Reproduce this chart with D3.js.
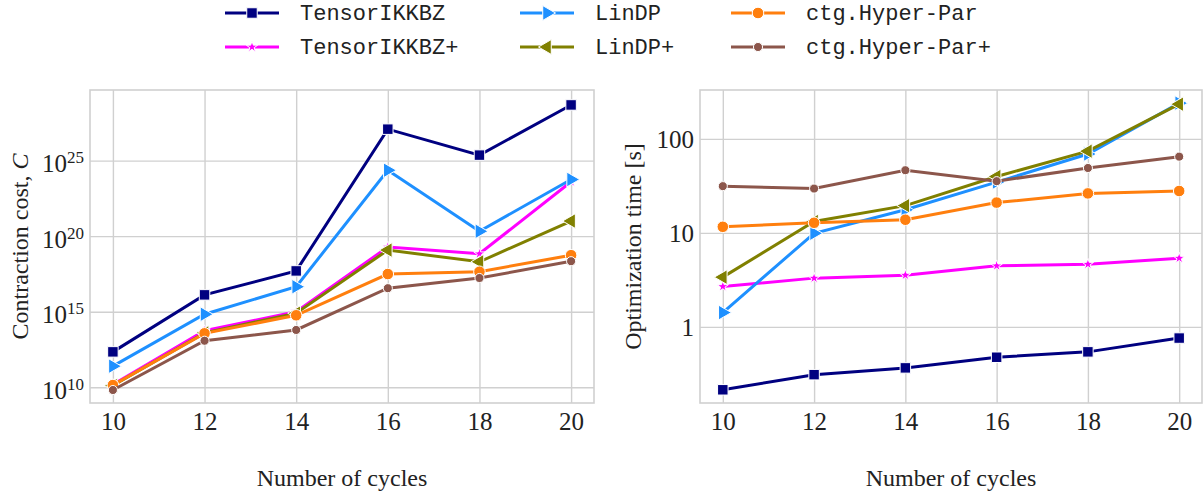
<!DOCTYPE html>
<html>
<head>
<meta charset="utf-8">
<script src="https://cdn.jsdelivr.net/npm/d3@7"></script>
<style>
  body { margin: 0; background: #fff; }
  svg text { fill: #222; }
  .lab { font-family: "Liberation Serif", "DejaVu Serif", serif; font-size: 24px; }
  .leg { font-family: "Liberation Mono", "DejaVu Sans Mono", monospace; font-size: 22px; }
</style>
</head>
<body>
<svg id="chart" width="1204" height="496"></svg>
<script>
  // number of cycles
  var cycles = [10, 12, 14, 16, 18, 20];
  var seriesNames = ['TensorIKKBZ', 'TensorIKKBZ+', 'LinDP', 'LinDP+', 'ctg.Hyper-Par', 'ctg.Hyper-Par+'];

  // contraction cost
  var costTensorIKKBZ = [2.2e12, 1.3e16, 5e17, 1.2e27, 2.3e25, 4.8e28];
  var costTensorIKKBZPlus = [1.5e10, 5.5e13, 1e15, 1.9e19, 6.8e18, 4e23];
  var costLinDP = [2.5e11, 6.8e14, 4.5e16, 2.3e24, 2.1e20, 5.6e23];
  var costLinDPPlus = [1.3e10, 4e13, 8e14, 1.2e19, 2e18, 1e21];
  var costHyperPar = [1.4e10, 3.7e13, 5.8e14, 3.1e17, 4.4e17, 5.5e18];
  var costHyperParPlus = [6.6e9, 1.2e13, 6.2e13, 3.6e16, 1.7e17, 2.2e18];

  // optimization time [s]
  var timeTensorIKKBZ = [0.214, 0.31, 0.366, 0.475, 0.542, 0.76];
  var timeTensorIKKBZPlus = [2.69, 3.3, 3.55, 4.46, 4.64, 5.38];
  var timeLinDP = [1.42, 9.9, 17.6, 34.7, 69, 240];
  var timeLinDPPlus = [3.38, 13.2, 19.5, 39.8, 74, 234];
  var timeHyperPar = [11.6, 12.8, 13.8, 21, 26.3, 27.9];
  var timeHyperParPlus = [31.4, 29.6, 46.4, 35.5, 49, 64.7];

  var costTicks = [1e10, 1e15, 1e20, 1e25];
  var timeTicks = [1, 10, 100];
  var timeTickLabels = ['1', '10', '100'];

  var costData = [costTensorIKKBZ, costTensorIKKBZPlus, costLinDP, costLinDPPlus, costHyperPar, costHyperParPlus];
  var timeData = [timeTensorIKKBZ, timeTensorIKKBZPlus, timeLinDP, timeLinDPPlus, timeHyperPar, timeHyperParPlus];

  var styles = [
    {color: '#000080', sym: d3.symbolSquare, size: 110, rot: 0},
    {color: '#ff00ff', sym: d3.symbolStar, size: 40, rot: 0},
    {color: '#1e90ff', sym: d3.symbolTriangle, size: 95, rot: 90},
    {color: '#808000', sym: d3.symbolTriangle, size: 95, rot: -90},
    {color: '#ff7f0e', sym: d3.symbolCircle, size: 105, rot: 0},
    {color: '#8c564b', sym: d3.symbolCircle, size: 65, rot: 0}
  ];

  var svg = d3.select('#chart');
  var plotTop = 90, plotBottom = 403;
  var serif = '"Liberation Serif", "DejaVu Serif", serif';

  function drawPanel(left, right, yDomain, yTicks, yFormat, data, yTitle, yTitleX) {
    var x = d3.scaleLinear().domain([9.5, 20.5]).range([left, right]);
    var y = d3.scaleLog().domain(yDomain).range([plotBottom, plotTop]);
    var g = svg.append('g');

    // grid + ticks
    var xa = g.append('g')
        .attr('transform', 'translate(0,' + plotBottom + ')')
        .call(d3.axisBottom(x).tickValues(cycles).tickSize(-(plotBottom - plotTop)));
    var ya = g.append('g')
        .attr('transform', 'translate(' + left + ',0)')
        .call(d3.axisLeft(y).tickValues(yTicks).tickSize(-(right - left)).tickFormat(function () { return ''; }));
    [xa, ya].forEach(function (a) {
      a.select('.domain').remove();
      a.selectAll('.tick line').attr('stroke', '#d0d0d0').attr('stroke-width', 1.4);
      a.selectAll('.tick text')
          .style('font-family', serif)
          .style('font-size', '25px')
          .style('fill', '#222');
    });
    xa.selectAll('.tick text').attr('y', 27).attr('dy', 0);
    ya.selectAll('.tick text').attr('x', -6).each(function (d, i) { yFormat(d3.select(this), d, i); });

    g.append('rect')
        .attr('x', left).attr('y', plotTop)
        .attr('width', right - left).attr('height', plotBottom - plotTop)
        .attr('fill', 'none').attr('stroke', '#d0d0d0').attr('stroke-width', 1.6);

    var line = d3.line()
        .x(function (d, i) { return x(cycles[i]); })
        .y(function (d) { return y(d); });

    data.forEach(function (vals, k) {
      var st = styles[k];
      g.append('path')
          .datum(vals)
          .attr('d', line)
          .attr('fill', 'none')
          .attr('stroke', st.color)
          .attr('stroke-width', 3);
      g.append('g').selectAll('path')
          .data(vals)
          .enter()
          .append('path')
          .attr('d', d3.symbol().type(st.sym).size(st.size))
          .attr('transform', function (d, i) {
            return 'translate(' + x(cycles[i]) + ',' + y(d) + ') rotate(' + st.rot + ')';
          })
          .attr('fill', st.color)
          .attr('stroke', '#fff')
          .attr('stroke-width', 1);
    });

    // axis labels
    svg.append('text').attr('class', 'lab')
        .attr('x', (left + right) / 2).attr('y', 486)
        .attr('text-anchor', 'middle')
        .text('Number of cycles');
    var t = svg.append('text').attr('class', 'lab')
        .attr('transform', 'translate(' + yTitleX + ',' + (plotTop + plotBottom) / 2 + ') rotate(-90)')
        .attr('text-anchor', 'middle');
    yTitle(t);
  }

  drawPanel(90, 594, [Math.pow(10, 8.96), Math.pow(10, 29.67)], costTicks,
    function (sel, d) {
      sel.text('10').attr('dy', '0.45em')
        .append('tspan').attr('dy', '-0.55em').style('font-size', '17px')
        .text(Math.round(Math.log10(d)));
    },
    costData,
    function (t) {
      t.text('Contraction cost, ');
      t.append('tspan').style('font-style', 'italic').text('C');
    }, 28);

  drawPanel(700, 1202, [Math.pow(10, -0.81), Math.pow(10, 2.52)], timeTicks,
    function (sel, d, i) { sel.text(timeTickLabels[i]).attr('dy', '0.35em'); },
    timeData,
    function (t) { t.text('Optimization time [s]'); }, 641);

  // legend, column-major 3x2
  var legCols = [225, 520, 731];
  var legRows = [13, 47];
  seriesNames.forEach(function (name, k) {
    var st = styles[k];
    var lx = legCols[Math.floor(k / 2)], ly = legRows[k % 2];
    var lg = svg.append('g');
    lg.append('line')
        .attr('x1', lx).attr('x2', lx + 54)
        .attr('y1', ly).attr('y2', ly)
        .attr('stroke', st.color).attr('stroke-width', 3);
    lg.append('path')
        .attr('d', d3.symbol().type(st.sym).size(st.size))
        .attr('transform', 'translate(' + (lx + 27) + ',' + ly + ') rotate(' + st.rot + ')')
        .attr('fill', st.color).attr('stroke', '#fff').attr('stroke-width', 1);
    lg.append('text').attr('class', 'leg')
        .attr('x', lx + 75).attr('y', ly + 7)
        .text(name);
  });
</script>
</body>
</html>
